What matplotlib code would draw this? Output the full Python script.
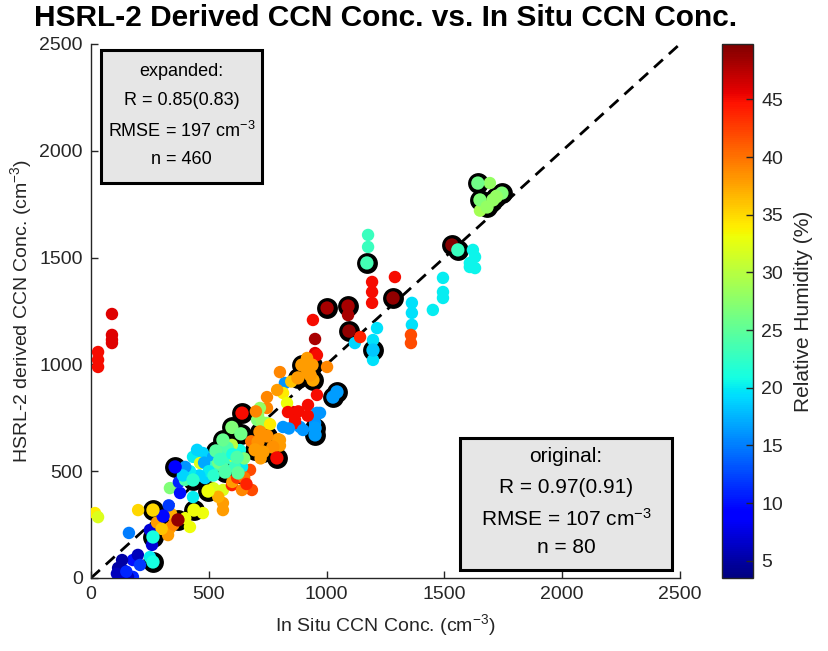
import matplotlib
matplotlib.use("Agg")
import matplotlib.pyplot as plt
import numpy as np
from matplotlib.patches import Rectangle
from matplotlib.colors import Normalize

plt.rcParams['font.family'] = ['Liberation Sans', 'DejaVu Sans']
plt.rcParams['mathtext.default'] = 'regular'

# ---------------- data ----------------
# expanded data set (filled circles, no outline)
exp_x = [89, 89, 89, 89, 30, 30, 30, 17, 30,
         123, 136, 115, 178, 178, 199, 208, 157, 132, 110, 150,
         161, 250, 259, 250, 200, 327, 335, 420, 475, 335, 378, 373,
         433, 475, 518, 484, 518, 547, 560, 632, 632, 590, 463, 598, 611, 560,
         560, 560, 598, 675, 683, 641, 747, 399, 433, 560,
         823, 815, 921, 857, 866, 887, 972, 747, 747, 717, 705, 802,
         1193, 1193, 1193, 1290, 942, 951, 951, 1214, 1197, 1197, 1120,
         1362, 1362, 1362, 1358, 1358, 1494, 1494, 1494, 1451,
         1608, 1621, 1630, 1608, 1630, 1176, 1176, 1091, 1142, 959,
         802, 1002, 917, 832, 836, 959, 866, 959, 951, 815, 900,
         709, 726, 794, 802, 641, 641, 1693, 1723, 1651,
         450, 480, 500, 520, 540, 580, 600, 610, 650, 460, 420, 400, 390,
         520, 540, 600, 620, 650, 660,
         340, 350, 400, 280, 300, 330,
         700, 760, 790, 850, 880, 840, 920, 680, 720]
exp_y = [1236, 1138, 1115, 1100, 1058, 1021, 988, 304, 285,
         5, 37, 47, 5, 84, 108, 61, 5, 84, 20, 30,
         211, 225, 155, 98, 318, 201, 234, 239, 304, 421, 398, 449,
         567, 585, 567, 468, 520, 585, 520, 599, 538, 562, 538, 623, 562, 412,
         351, 318, 435, 506, 412, 412, 726, 459, 379, 599,
         913, 866, 810, 777, 740, 707, 773, 847, 796, 796, 740, 646,
         1386, 1339, 1288, 1409, 1208, 1119, 1053, 1170, 1114, 1021, 1100,
         1288, 1241, 1185, 1138, 1100, 1405, 1339, 1311, 1255,
         1475, 1536, 1503, 1456, 1451, 1606, 1550, 1231, 1128, 1044,
         964, 988, 1030, 819, 777, 857, 726, 773, 726, 707, 693,
         763, 730, 650, 620, 562, 520, 1849, 1790, 1720,
         600, 540, 500, 480, 540, 610, 580, 520, 560, 480, 500, 520, 480,
         420, 380, 450, 470, 470, 440,
         300, 250, 280, 260, 230, 340,
         780, 720, 880, 920, 780, 700, 760, 640, 560]
exp_rh = [46, 46, 46, 46, 45, 45, 45, 34, 32,
          5, 5, 5, 11, 10, 6, 12, 6, 5, 6, 11,
          15, 7, 7, 20, 35, 38, 38, 33, 33, 27, 10, 11,
          20, 19, 17, 19, 23, 23, 24, 21, 22, 23, 32, 30, 30, 32,
          38, 38, 44, 42, 42, 39, 28, 24, 20, 23,
          16, 34, 45, 46, 45, 16, 16, 39, 39, 28, 27, 38,
          45, 45, 45, 45, 45, 48, 46, 19.5, 19.5, 19.5, 19,
          19.5, 19.5, 19.5, 42, 42, 20, 20, 20, 20,
          20.5, 20.5, 20.5, 20.5, 20.5, 23, 23, 48, 44, 45,
          39, 39, 38, 33, 45, 45, 45, 16, 16, 16, 16,
          28, 28, 38, 38, 20, 20, 28, 28, 29,
          19, 17, 20, 22, 26, 24, 21, 23, 27, 19, 20, 16, 19,
          32, 37, 38, 43, 40, 44,
          37, 39, 33, 38, 36, 12,
          39, 34, 38, 36, 45, 16, 45, 40, 38]

# original data set (circles with black outline)
org_x = [1642, 1651, 1706, 1744, 1681, 1720, 1532, 1557, 1171, 1282,
         1002, 1091, 1095, 1197, 895, 938, 878, 942, 920, 930,
         1044, 1027, 951, 951, 598, 636, 560, 530, 547, 620, 624, 569,
         641, 717, 747, 709, 772, 730, 696, 789,
         357, 433, 497, 437, 369, 306, 263, 263, 263]
org_y = [1849, 1770, 1770, 1802, 1737, 1785, 1559, 1536, 1475, 1311,
         1264, 1273, 1156, 1067, 997, 997, 937, 927, 965, 950,
         871, 847, 702, 670, 705, 675, 646, 595, 555, 565, 492, 496,
         772, 684, 665, 637, 613, 590, 600, 562,
         520, 459, 407, 318, 272, 290, 318, 192, 75]
org_rh = [26, 27, 28, 27, 28, 28, 49.5, 23, 23.5, 49,
          48, 48, 49, 18.5, 38, 38, 38, 37.5, 38, 38,
          16.5, 16.5, 16.5, 16.5, 27, 26, 25.5, 24.5, 23, 24, 25, 24,
          45, 38.5, 38.5, 38.5, 38.5, 38, 38, 45,
          9, 22, 33, 33, 49, 9.5, 35, 21, 21]

rh_min, rh_max = 3.5, 49.8
axis_max = 2500
ticks = [0, 500, 1000, 1500, 2000, 2500]
cb_ticks = [5, 10, 15, 20, 25, 30, 35, 40, 45]

box1_lines = ["expanded:", "R = 0.85(0.83)", "RMSE = 197 cm$^{-3}$", "n = 460"]
box2_lines = ["original:", "R = 0.97(0.91)", "RMSE = 107 cm$^{-3}$", "n = 80"]

# ---------------- figure ----------------
W, H = 829, 651
fig = plt.figure(figsize=(W / 100, H / 100), dpi=100)
ax = fig.add_axes([91 / W, 1 - 578 / H, 589 / W, 534 / H])
cax = fig.add_axes([722 / W, 1 - 578 / H, 31 / W, 534 / H])

gray = (0.15, 0.15, 0.15)
norm = Normalize(rh_min, rh_max)
cmap = plt.get_cmap('jet')

# 1:1 line
ax.plot([0, axis_max], [0, axis_max], color='k', lw=2.0, dashes=(4.3, 2.9), zorder=1)

# black outlines of original points
ax.scatter(org_x, org_y, s=225, c='k', linewidths=0, zorder=2)
# expanded points
ax.scatter(exp_x, exp_y, s=80, c=exp_rh, cmap=cmap, norm=norm, linewidths=0, zorder=3)
# original point fills
sc = ax.scatter(org_x, org_y, s=92, c=org_rh, cmap=cmap, norm=norm, linewidths=0, zorder=4)

ax.set_xlim(0, axis_max)
ax.set_ylim(0, axis_max)
ax.set_xticks(ticks)
ax.set_yticks(ticks)
for sp in ['top', 'right']:
    ax.spines[sp].set_visible(False)
for sp in ['left', 'bottom']:
    ax.spines[sp].set_color(gray)
    ax.spines[sp].set_linewidth(1.0)
ax.tick_params(direction='in', length=5, width=1.0, colors=gray, labelsize=14, pad=6)

ax.set_xlabel("In Situ CCN Conc. (cm$^{-3}$)", fontsize=14, color=gray, labelpad=6)
ax.set_ylabel("HSRL-2 derived CCN Conc. (cm$^{-3}$)", fontsize=14, color=gray, labelpad=4)
ax.set_title("HSRL-2 Derived CCN Conc. vs. In Situ CCN Conc.", fontsize=21.5,
             fontweight='bold', pad=13)

# text boxes
def draw_box(x0, y0, x1, y1, xc, ys, lines, fs):
    ax.add_patch(Rectangle((x0, y0), x1 - x0, y1 - y0, transform=ax.transAxes,
                           facecolor=(0.9, 0.9, 0.9), edgecolor='k', lw=2.2,
                           zorder=6, clip_on=False))
    for yy, t in zip(ys, lines):
        ax.text(xc, yy, t, transform=ax.transAxes, ha='center', va='center',
                fontsize=fs, color='k', zorder=7)

draw_box(0.017, 0.7397, 0.2903, 0.9888, 0.1537,
         [0.9476, 0.8933, 0.8371, 0.7828], box1_lines, 13)
draw_box(0.6265, 0.015, 0.9864, 0.2622, 0.8065,
         [0.2266, 0.1704, 0.1105, 0.0562], box2_lines, 15)

# colorbar
cb = fig.colorbar(sc, cax=cax, ticks=cb_ticks)
cb.outline.set_edgecolor(gray)
cb.outline.set_linewidth(1.0)
cax.tick_params(direction='in', length=5, width=1.0, colors=gray, labelsize=14, pad=6)
cb.set_label("Relative Humidity (%)", fontsize=15, color=gray, labelpad=8)

fig.savefig("out.png", dpi=100)
